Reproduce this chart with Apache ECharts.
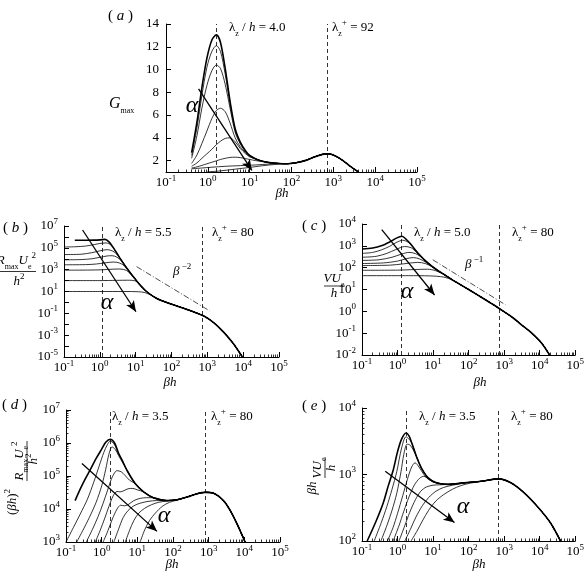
<!DOCTYPE html>
<html>
<head>
<meta charset="utf-8">
<script src="https://cdn.jsdelivr.net/npm/echarts@6/dist/echarts.min.js"></script>
<style>html,body{margin:0;background:#fff}#chart{width:587px;height:573px}</style>
</head>
<body>
<div id="chart"></div>
<script>
// ---- panel (a): G_max ----
var aTail = [[14,2.15],[20,1.95],[30,1.82],[50,1.75],[80,1.73],[130,1.82],[220,2.02],[350,2.32],[550,2.55],[750,2.6],[1100,2.42],[1700,2.0],[2500,1.52],[4000,1.0]];
var aCurves = [
  [[0.41,2.7],[0.55,5.4],[0.72,8.4],[0.95,11.0],[1.25,12.6],[1.6,13.05],[2.0,12.4],[2.6,10.1],[3.4,7.2],[4.5,4.8],[6,3.6],[8,2.85],[10,2.45]],
  [[0.41,2.45],[0.55,4.9],[0.72,7.7],[0.95,10.2],[1.25,11.6],[1.6,12.1],[2.0,11.6],[2.6,9.6],[3.4,7.0],[4.5,4.7],[6,3.55],[8,2.83],[10,2.44]],
  [[0.41,2.2],[0.55,4.2],[0.72,6.6],[0.95,8.6],[1.25,9.9],[1.6,10.4],[2.0,10.1],[2.6,8.7],[3.4,6.6],[4.5,4.5],[6,3.45],[8,2.8],[10,2.42]],
  [[0.41,1.75],[0.55,2.5],[0.72,3.5],[0.95,4.6],[1.25,5.7],[1.6,6.4],[2.0,6.6],[2.6,6.3],[3.4,5.3],[4.5,4.0],[6,3.2],[8,2.7],[10,2.38]],
  [[0.41,1.5],[0.55,1.8],[0.72,2.2],[0.95,2.6],[1.25,3.0],[1.6,3.4],[2.0,3.7],[2.6,3.95],[3.4,4.0],[4.5,3.65],[6,3.05],[8,2.6],[10,2.33]],
  [[0.41,1.35],[0.55,1.45],[0.72,1.58],[0.95,1.72],[1.25,1.86],[1.6,1.98],[2.0,2.1],[2.6,2.2],[3.4,2.28],[4.5,2.3],[6,2.26],[8,2.18],[10,2.1],[14,2.0],[20,1.92]],
  [[0.41,1.28],[0.72,1.35],[1.25,1.42],[2.6,1.5],[6,1.56],[14,1.62],[30,1.7]],
  [[0.95,1.0],[2.0,1.1],[4.5,1.25],[10,1.4],[20,1.55],[40,1.66],[80,1.73]]
];
var aDash = [1.571, 714];
var aArrow = [[0.6,8.3],[11.3,1.14]];

// ---- panel (b): R_max U_e^2 / h^2 ----
var bTail = [[1.4,6.0e5],[1.8,3.5e5],[2.4,1.0e5],[3.6,1.2e4],[5.6,1.4e3],[8.5,240],[13,42],[20,10],[38,2.4],[73,1.0],[140,0.48],[330,0.18],[800,0.056],[1500,0.014],[2800,2.0e-3],[5300,1.7e-4],[9500,1e-5]];
var bCurves = [
  [[0.2,5.0e5],[0.4,5.0e5],[0.7,5.1e5],[1.0,5.4e5]],
  [[0.1,1.2e5],[0.2,1.25e5],[0.4,1.45e5],[0.7,2.0e5],[1.0,2.5e5],[1.5,2.8e5],[2.0,1.9e5],[2.6,6.5e4]],
  [[0.1,2.4e4],[0.3,2.6e4],[0.6,3.6e4],[1.0,5.3e4],[1.6,6.8e4],[2.3,5.0e4],[3.2,2.0e4],[4.5,4.2e3]],
  [[0.1,8.0e3],[0.3,8.4e3],[0.6,1.0e4],[1.0,1.35e4],[1.6,1.8e4],[2.2,1.9e4],[3.0,1.4e4],[4.3,5.0e3],[6.0,1.1e3]],
  [[0.1,2.8e3],[0.4,2.9e3],[0.8,3.3e3],[1.4,4.2e3],[2.4,5.0e3],[3.6,4.0e3],[5.2,1.8e3],[7.5,380]],
  [[0.1,900],[0.5,920],[1.2,980],[2.2,1.1e3],[3.6,1.15e3],[5.5,850],[8.5,230],[12,60]],
  [[0.1,100],[1,100],[3,105],[6,108],[10,90],[14,38],[20,10.5]],
  [[0.1,10],[1,10],[5,10],[12,9.5],[18,8],[27,4.5],[40,2.0],[55,1.3]]
];
var bDash = [1.142, 720];
var bArrow = [[0.33,4.3e6],[10.2,0.14]];
var bSlope = [[10.6,1.9e3],[1150,0.17]];

// ---- panel (c): V U_e / h ----
var cTail = [[1.33,2.75e3],[1.8,1.9e3],[2.3,1.25e3],[3.9,430],[6.7,178],[11.5,89],[22,45],[42,23],[100,10],[240,4.2],[500,2.0],[870,1.1],[1650,0.55],[3200,0.23],[6000,0.1],[11500,0.034],[19000,0.01]];
var cCurves = [
  [[0.1,720],[0.2,800],[0.35,1.0e3],[0.6,1.5e3],[0.9,2.2e3]],
  [[0.1,450],[0.2,500],[0.35,650],[0.6,950],[0.9,1.4e3],[1.4,1.8e3],[2.0,1.45e3],[2.8,850]],
  [[0.1,300],[0.25,330],[0.5,450],[0.9,680],[1.6,930],[2.4,820],[3.5,480],[5,270]],
  [[0.1,215],[0.3,230],[0.7,300],[1.3,420],[2.1,500],[3.2,440],[5,280],[7.5,160]],
  [[0.1,155],[0.4,165],[1.0,200],[1.8,260],[2.8,290],[4.2,250],[6.5,170],[10,100],[15,65]],
  [[0.1,125],[0.6,130],[1.5,150],[3.7,175],[6,155],[10,105],[16,62]],
  [[0.1,76],[1,77],[3,82],[7,85],[12,72],[20,50],[30,33]],
  [[0.1,43],[2,43],[8,42],[20,37],[35,27],[60,16.5]]
];
var cDash = [1.257, 740];
var cArrow = [[0.36,5.5e3],[11,5.6]];
var cSlope = [[9.8,230],[1085,2.0]];

// ---- panel (d): (beta h)^2 R_max U_e^2 / h^2 ----
var dTail = [[5.1,1.5e5],[8.7,5.9e4],[15,3.3e4],[28,2.2e4],[68,1.8e4],[128,1.9e4],[245,2.3e4],[470,2.9e4],[800,3.2e4],[1380,3.0e4],[2600,1.8e4],[4000,9.1e3],[6200,3.6e3],[10500,1e3]];
var dCurves = [
  [[0.18,1.8e4],[0.25,4.0e4],[0.35,8.3e4],[0.5,1.7e5],[0.7,3.4e5],[1.0,6.5e5],[1.3,1.05e6],[1.74,1.3e6],[2.3,1.0e6],[3.0,4.8e5],[4.0,2.6e5]],
  [[0.1,1.0e3],[0.16,2.7e3],[0.25,7e3],[0.4,2.0e4],[0.6,6.5e4],[0.85,2.0e5],[1.15,5.2e5],[1.45,9.0e5],[1.74,1.15e6],[2.2,9.5e5],[2.8,5.5e5],[3.6,3.2e5]],
  [[0.2,1e3],[0.3,2.3e3],[0.45,5.5e3],[0.7,1.6e4],[1.0,5.0e4],[1.3,1.6e5],[1.6,4.6e5],[1.95,7.6e5],[2.4,6.4e5],[3.0,4.1e5],[4.0,2.4e5]],
  [[0.37,1e3],[0.55,2.4e3],[0.8,6e3],[1.1,1.5e4],[1.5,4e4],[2.0,9.5e4],[2.7,1.45e5],[3.5,1.35e5],[4.5,1.05e5],[6,7.5e4]],
  [[0.66,1e3],[0.9,2.2e3],[1.2,5e3],[1.6,1.2e4],[2.1,2.5e4],[2.7,3.4e4],[3.3,3.3e4],[4.2,3.6e4],[5.5,4.1e4],[7.5,4.2e4],[10,3.8e4]],
  [[1.1,1e3],[1.5,2.2e3],[2.0,5e3],[2.7,1.0e4],[3.4,1.3e4],[4.3,1.25e4],[5.5,1.35e4],[8,1.8e4],[12,2.1e4],[18,2.2e4]],
  [[2.2,1e3],[3,2.5e3],[4,5.5e3],[5.5,9e3],[8,1.25e4],[12,1.5e4],[20,1.7e4],[35,1.8e4]],
  [[4.6,1e3],[6,2.2e3],[8,4.5e3],[11,7.5e3],[16,1.05e4],[25,1.35e4],[40,1.6e4],[70,1.75e4]],
  [[12,1e3],[16,2.3e3],[22,4.5e3],[32,7.5e3],[50,1.2e4],[80,1.6e4],[130,1.85e4]]
];
var dDash = [1.795, 810];
var dArrow = [[0.28,2.4e5],[35.6,2.1e3]];

// ---- panel (e): beta h V U_e / h ----
var eTail = [[1.73,4.2e3],[2.1,3.8e3],[2.5,3.0e3],[3.4,1.87e3],[4.7,1.25e3],[7.3,890],[12.4,750],[26,710],[77,750],[225,790],[700,860],[1550,750],[3650,530],[8600,330],[20000,188],[38500,100]];
var eCurves = [
  [[0.14,100],[0.25,200],[0.4,380],[0.55,680],[0.75,1.15e3],[1.0,2.2e3],[1.3,3.4e3]],
  [[0.22,100],[0.35,190],[0.5,330],[0.7,600],[0.95,1.1e3],[1.3,2.5e3],[1.73,3.7e3],[2.1,3.4e3]],
  [[0.34,100],[0.5,170],[0.7,290],[0.95,520],[1.25,1.1e3],[1.5,2.0e3],[1.85,2.85e3],[2.2,2.8e3],[2.7,2.4e3]],
  [[0.52,100],[0.75,160],[1.0,260],[1.4,480],[1.9,850],[2.5,1.3e3],[3.1,1.5e3],[4,1.3e3],[5.5,1.0e3],[7.3,850]],
  [[0.75,100],[1.1,170],[1.5,280],[2.1,460],[3,700],[4.2,880],[5.5,940],[7.5,850],[10,770]],
  [[1.1,100],[1.6,170],[2.2,270],[3.2,420],[4.5,560],[6.5,650],[10,690],[15,700]],
  [[1.6,100],[2.3,150],[3.3,230],[5,340],[7.5,450],[12,560],[20,640],[35,690],[55,720]],
  [[2.4,100],[3.5,140],[5,200],[7.5,290],[12,400],[20,500],[35,600],[60,680],[110,740]]
];
var eDash = [1.795, 700];
var eArrow = [[0.45,1.12e3],[40,190]];

var xMajor = [0.1, 1, 10, 100, 1e3, 1e4, 1e5];

var SERIF = '"Liberation Serif","DejaVu Serif",serif';
var BLACK = '#000';

function minorTicks(lo, hi) {
  var out = [];
  for (var d = lo; d < hi; d++)
    for (var k = 2; k <= 9; k++) out.push(+(k * Math.pow(10, d)).toPrecision(2));
  return out;
}
function decades(lo, hi, step) {
  var out = [];
  for (var d = lo; d <= hi; d += (step || 1)) out.push(+Math.pow(10, d).toPrecision(2));
  return out;
}
var xMinor = minorTicks(-1, 5);

function powLabel(v) {
  return '{b|10}{s|' + Math.round(Math.log10(v)) + '}';
}
var tickRich = {
  b: {fontFamily: SERIF, fontSize: 13, color: BLACK, lineHeight: 18},
  s: {fontFamily: SERIF, fontSize: 9, color: BLACK, lineHeight: 9, verticalAlign: 'top'}
};

var grids = [
  {left: 166, top: 24, width: 251, height: 148},
  {left: 64, top: 226, width: 215, height: 131},
  {left: 362, top: 224, width: 215, height: 131},
  {left: 66, top: 410, width: 214, height: 132},
  {left: 362, top: 408, width: 215, height: 133}
];

var xAxes = [], yAxes = [];
function push(list, o) { list.push(o); return list.length - 1; }

function logX(gi) {
  var main = push(xAxes, {
    type: 'log', logBase: 10, gridIndex: gi, min: 0.1, max: 1e5, position: 'bottom',
    splitLine: {show: false},
    axisLine: {onZero: false, lineStyle: {color: BLACK, width: 1}},
    axisTick: {inside: true, length: 5, customValues: xMajor, lineStyle: {color: BLACK, width: 1}},
    axisLabel: {customValues: xMajor, formatter: powLabel, rich: tickRich, margin: 2}
  });
  push(xAxes, {
    type: 'log', logBase: 10, gridIndex: gi, min: 0.1, max: 1e5, position: 'bottom',
    splitLine: {show: false}, axisLine: {show: false}, axisLabel: {show: false},
    axisTick: {inside: true, length: 2.5, customValues: xMinor, lineStyle: {color: BLACK, width: 0.8}}
  });
  return main;
}

function logY(gi, lo, hi, labelStep, minor) {
  var main = push(yAxes, {
    type: 'log', logBase: 10, gridIndex: gi, min: Math.pow(10, lo), max: Math.pow(10, hi), position: 'left',
    splitLine: {show: false},
    axisLine: {onZero: false, lineStyle: {color: BLACK, width: 1}},
    axisTick: {inside: true, length: 5, customValues: decades(lo, hi), lineStyle: {color: BLACK, width: 1}},
    axisLabel: {customValues: decades(lo, hi, labelStep), formatter: powLabel, rich: tickRich, margin: 6}
  });
  if (minor) {
    push(yAxes, {
      type: 'log', logBase: 10, gridIndex: gi, min: Math.pow(10, lo), max: Math.pow(10, hi), position: 'left',
      splitLine: {show: false}, axisLine: {show: false}, axisLabel: {show: false},
      axisTick: {inside: true, length: 2.5, customValues: minorTicks(lo, hi), lineStyle: {color: BLACK, width: 0.8}}
    });
  }
  return main;
}

var ax = [];
ax.push([logX(0), push(yAxes, {
  type: 'value', gridIndex: 0, min: 1, max: 14, position: 'left',
  splitLine: {show: false},
  axisLine: {onZero: false, lineStyle: {color: BLACK, width: 1}},
  axisTick: {inside: true, length: 5, customValues: [2,4,6,8,10,12,14], lineStyle: {color: BLACK}},
  axisLabel: {customValues: [2,4,6,8,10,12,14], fontFamily: SERIF, fontSize: 13, color: BLACK, margin: 7}
})]);
ax.push([logX(1), logY(1, -5, 7, 2, false)]);
ax.push([logX(2), logY(2, -2, 4, 1, false)]);
ax.push([logX(3), logY(3, 3, 7, 1, true)]);
ax.push([logX(4), logY(4, 2, 4, 1, true)]);

function marks(dash, arrow, slope) {
  var data = dash.map(function (v) {
    return {xAxis: v, lineStyle: {type: [4, 3], color: BLACK, width: 0.8}};
  });
  data.push([
    {coord: arrow[0], symbol: 'none', lineStyle: {type: 'solid', color: BLACK, width: 1.3}},
    {coord: arrow[1], symbol: 'arrow', symbolSize: [7, 11]}
  ]);
  if (slope) {
    data.push([
      {coord: slope[0], symbol: 'none', lineStyle: {type: [6, 2, 1, 2], color: BLACK, width: 0.7}},
      {coord: slope[1], symbol: 'none'}
    ]);
  }
  return {silent: true, symbol: 'none', label: {show: false}, animation: false, data: data};
}

var series = [];
function panel(p, heads, tail, dash, arrow, slope) {
  heads.forEach(function (h, k) {
    var last = h[h.length - 1][0];
    var s = {
      type: 'line', xAxisIndex: ax[p][0], yAxisIndex: ax[p][1],
      data: h.concat(tail.filter(function (pt) { return pt[0] > last; })),
      smooth: 0.3, symbol: 'none', silent: true, animation: false,
      lineStyle: {color: BLACK, width: k === 0 ? 1.6 : 0.8},
      z: k === 0 ? 3 : 2
    };
    if (k === 0) s.markLine = marks(dash, arrow, slope);
    series.push(s);
  });
}
panel(0, aCurves, aTail, aDash, aArrow);
panel(1, bCurves, bTail, bDash, bArrow, bSlope);
panel(2, cCurves, cTail, cDash, cArrow, cSlope);
panel(3, dCurves, dTail, dDash, dArrow);
panel(4, eCurves, eTail, eDash, eArrow);

// ---- annotations ----
var G = {
  n: {fontFamily: SERIF, fontSize: 13, fill: BLACK, lineHeight: 20},
  i: {fontFamily: SERIF, fontSize: 13, fontStyle: 'italic', fill: BLACK, lineHeight: 20},
  sub: {fontFamily: SERIF, fontSize: 8, fill: BLACK, lineHeight: 8, verticalAlign: 'bottom'},
  sup: {fontFamily: SERIF, fontSize: 9, fill: BLACK, lineHeight: 9, verticalAlign: 'top'},
  gi: {fontFamily: SERIF, fontSize: 16, fontStyle: 'italic', fill: BLACK, lineHeight: 22},
  al: {fontFamily: SERIF, fontSize: 24, fontStyle: 'italic', fill: BLACK, lineHeight: 26},
  p: {fontFamily: SERIF, fontSize: 15, fill: BLACK, lineHeight: 20},
  pi: {fontFamily: SERIF, fontSize: 15, fontStyle: 'italic', fill: BLACK, lineHeight: 20}
};
function T(x, y, text, align) {
  return {type: 'text', x: x, y: y, silent: true, style: {
    text: text, rich: G, fill: BLACK, font: '13px ' + SERIF,
    align: align || 'left', verticalAlign: 'middle', textAlign: align || 'left', textVerticalAlign: 'middle'
  }};
}
function bar(x1, y1, x2, y2) {
  return {type: 'line', silent: true, shape: {x1: x1, y1: y1, x2: x2, y2: y2}, style: {stroke: BLACK, lineWidth: 0.8}};
}
var lamH = function (v) { return '{n|λ}{sub|z}{n| / }{i|h}{n| = ' + v + '}'; };
var lamP = function (v) { return '{n|λ}{sub|z}{sup|+}{n| = ' + v + '}'; };
var betaH = '{i|βh}';

var graphics = [
  // (a)
  T(108, 16, '{p|( }{pi|a}{p| )}'),
  T(109, 104, '{gi|G}{sub|max}'),
  T(229, 28, lamH('4.0')), T(332, 28, lamP('92')),
  T(192, 106, '{al|α}', 'center'),
  T(282, 194, betaH, 'center'),
  // (b)
  T(3, 228, '{p|( }{pi|b}{p| )}'),
  T(36, 261, '{i|R}{sub|max}{i|U}{sub|e}{sup|2}', 'right'),
  bar(-2, 271.5, 36, 271.5),
  T(19, 282, '{i|h}{sup|2}', 'center'),
  T(115, 233, lamH('5.5')), T(212, 233, lamP('80')),
  T(173, 272, '{i|β}{sup| −2}'),
  T(107, 303, '{al|α}', 'center'),
  T(170, 383, betaH, 'center'),
  // (c)
  T(302, 226, '{p|( }{pi|c}{p| )}'),
  T(334, 279, '{i|VU}{sub|e}', 'center'),
  bar(324, 286, 345, 286),
  T(334, 294, '{i|h}', 'center'),
  T(414, 233, lamH('5.0')), T(512, 233, lamP('80')),
  T(465, 265, '{i|β}{sup| −1}'),
  T(407, 292, '{al|α}', 'center'),
  T(480, 383, betaH, 'center'),
  // (d)
  T(2, 405, '{p|( }{pi|d}{p| )}'),
  {type: 'group', x: 27, y: 485, rotation: Math.PI / 2, silent: true, children: [
    T(-17, -14, '{n|(}{i|βh}{n|)}{sup|2}', 'center'),
    T(24, -7, '{i|R}{sub|max}{i|U}{sub|e}{sup|2}', 'center'),
    bar(4, 0, 44, 0),
    T(26, 7, '{i|h}{sup|2}', 'center')
  ]},
  T(112, 417, lamH('3.5')), T(211, 417, lamP('80')),
  T(164, 516, '{al|α}', 'center'),
  T(172, 565, betaH, 'center'),
  // (e)
  T(302, 406, '{p|( }{pi|e}{p| )}'),
  {type: 'group', x: 325, y: 485, rotation: Math.PI / 2, silent: true, children: [
    T(-3, -12, '{i|βh}', 'center'),
    T(17, -7, '{i|VU}{sub|e}', 'center'),
    bar(7, 0, 28, 0),
    T(17, 7, '{i|h}', 'center')
  ]},
  T(419, 417, lamH('3.5')), T(511, 417, lamP('80')),
  T(463, 507, '{al|α}', 'center'),
  T(479, 565, betaH, 'center')
];

var chart = echarts.init(document.getElementById('chart'), null, {renderer: 'canvas'});
chart.setOption({
  animation: false,
  backgroundColor: '#fff',
  grid: grids,
  xAxis: xAxes,
  yAxis: yAxes,
  series: series,
  graphic: {elements: graphics}
});
</script>
</body>
</html>
